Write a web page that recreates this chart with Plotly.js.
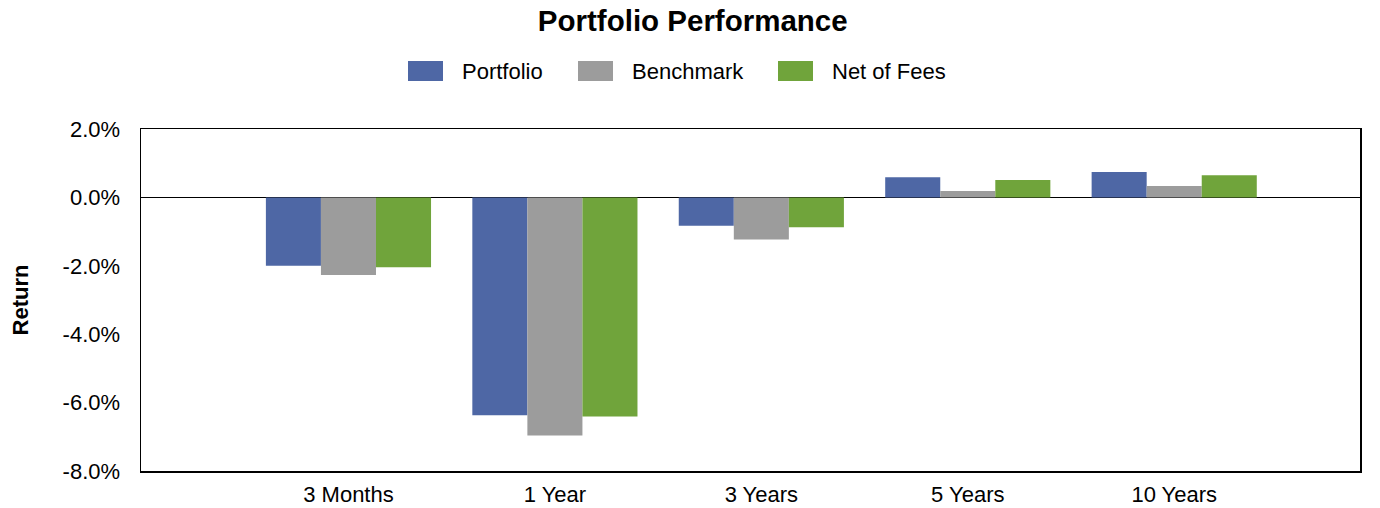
<!DOCTYPE html>
<html>
<head>
<meta charset="utf-8">
<script src="https://cdn.plot.ly/plotly-3.0.1.min.js"></script>
<style>
  body { margin: 0; background: #fff; }
  #chart { width: 1380px; height: 508px; }
</style>
</head>
<body>
<div id="chart"></div>
<script>
// periods on the x axis
var periods = ["3 Months", "1 Year", "3 Years", "5 Years", "10 Years"];

// returns in %
var portfolio = [-2.00, -6.37, -0.83, 0.59, 0.74];
var benchmark = [-2.27, -6.96, -1.23, 0.19, 0.33];
var netOfFees = [-2.04, -6.41, -0.87, 0.51, 0.65];

var seriesNames = ["Portfolio", "Benchmark", "Net of Fees"];
var seriesColors = ["#4E67A5", "#9C9C9C", "#70A43B"];

var yTicks = [2, 0, -2, -4, -6, -8];
var yTickText = ["2.0%", "0.0%", "-2.0%", "-4.0%", "-6.0%", "-8.0%"];

var font = "Liberation Sans, Arial, sans-serif";

var values = [portfolio, benchmark, netOfFees];
var data = values.map(function (v, i) {
  return {
    type: "bar",
    name: seriesNames[i],
    x: periods,
    y: v,
    marker: { color: seriesColors[i] },
    hoverinfo: "x+y+name"
  };
});

// legend drawn by hand so the swatches can be wide like the original
var legendX = [408, 578, 778];   // swatch left edges, px
var plotL = 141, plotW = 1219, plotB = 471.5, plotH = 342.5;
function px(x) { return (x - plotL) / plotW; }
function py(y) { return (plotB - y) / plotH; }

var shapes = [], annotations = [];
seriesNames.forEach(function (n, i) {
  shapes.push({
    type: "rect", xref: "paper", yref: "paper",
    x0: px(legendX[i]), x1: px(legendX[i] + 35),
    y0: py(81), y1: py(61),
    fillcolor: seriesColors[i], line: { width: 0 }
  });
  annotations.push({
    xref: "paper", yref: "paper",
    x: px(legendX[i] + 52), y: py(71),
    xanchor: "left", yanchor: "middle",
    text: n, showarrow: false,
    font: { family: font, size: 22, color: "#000" }
  });
});

var layout = {
  width: 1380,
  height: 508,
  margin: { l: 141, r: 20, t: 129, b: 36.5 },
  paper_bgcolor: "#fff",
  plot_bgcolor: "#fff",
  showlegend: false,
  barmode: "group",
  bargap: 0.2,
  bargroupgap: 0,
  font: { family: font, size: 22, color: "#000" },
  title: {
    text: "<b>Portfolio Performance</b>",
    font: { family: font, size: 29.5, color: "#000" },
    xref: "container", x: 0.502,
    yref: "container", y: 0.96, yanchor: "middle"
  },
  xaxis: {
    type: "category",
    range: [-1.005, 4.9],
    showgrid: false,
    zeroline: false,
    showline: true, mirror: true,
    linecolor: "#000", linewidth: 1.5,
    ticks: "",
    ticklabelstandoff: 3,
    tickfont: { family: font, size: 22, color: "#000" }
  },
  yaxis: {
    range: [-8, 2],
    tickvals: yTicks,
    ticktext: yTickText,
    showgrid: false,
    zeroline: true, zerolinecolor: "#000", zerolinewidth: 1.5,
    showline: true, mirror: true,
    linecolor: "#000", linewidth: 1.5,
    ticks: "",
    ticklabelstandoff: 15,
    tickfont: { family: font, size: 22, color: "#000" },
    title: {
      text: "<b>Return</b>",
      font: { family: font, size: 22, color: "#000" },
      standoff: 28
    }
  },
  shapes: shapes,
  annotations: annotations
};

Plotly.newPlot("chart", data, layout, { displayModeBar: false, staticPlot: true });
</script>
</body>
</html>
